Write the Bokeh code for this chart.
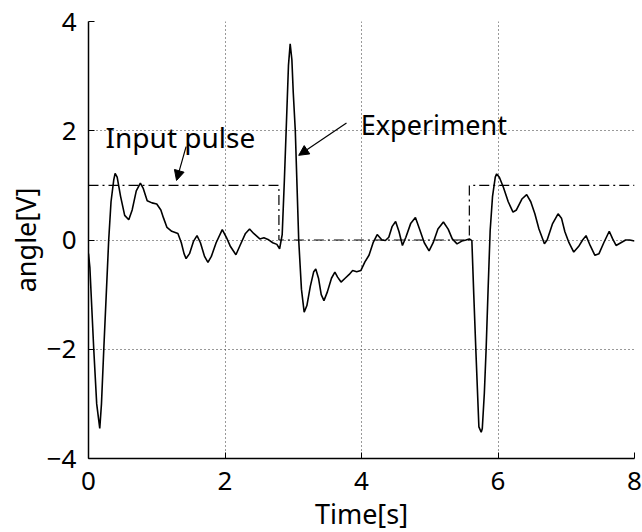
from bokeh.plotting import figure
from bokeh.models import Range1d, FixedTicker, Label, Arrow, NormalHead, Title
from bokeh.embed import file_html
from bokeh.resources import INLINE

# Experiment response (time [s], angle [V])
exp_t = [0.00, 0.02, 0.077, 0.12, 0.165, 0.19, 0.224, 0.26, 0.296, 0.33, 0.37, 0.39,
         0.42, 0.47, 0.53, 0.59, 0.64, 0.70, 0.76, 0.80, 0.86, 0.93, 1.00, 1.06,
         1.10, 1.15, 1.22, 1.31, 1.36, 1.40, 1.43, 1.48, 1.54, 1.59, 1.64, 1.70,
         1.75, 1.80, 1.87, 1.96, 2.02, 2.08, 2.16, 2.22, 2.30, 2.36, 2.42, 2.51,
         2.57, 2.63, 2.70, 2.76, 2.80, 2.838, 2.87, 2.896, 2.93, 2.955, 2.98, 3.00,
         3.03, 3.055, 3.08, 3.12, 3.16, 3.20, 3.25, 3.30, 3.33, 3.37, 3.41, 3.45,
         3.50, 3.56, 3.61, 3.65, 3.70, 3.76, 3.82, 3.87, 3.93, 3.99, 4.05, 4.11,
         4.17, 4.23, 4.30, 4.35, 4.40, 4.45, 4.50, 4.55, 4.60, 4.65, 4.72, 4.79,
         4.85, 4.92, 4.99, 5.05, 5.12, 5.20, 5.27, 5.33, 5.40, 5.47, 5.53, 5.58,
         5.617, 5.645, 5.675, 5.72, 5.754, 5.77, 5.80, 5.826, 5.855, 5.885, 5.92, 5.96,
         5.98, 6.02, 6.08, 6.15, 6.22, 6.27, 6.35, 6.42, 6.48, 6.54, 6.60, 6.68,
         6.72, 6.80, 6.88, 6.93, 6.98, 7.04, 7.11, 7.18, 7.24, 7.29, 7.35, 7.42,
         7.48, 7.55, 7.63, 7.68, 7.73, 7.80, 7.87, 7.93, 8.00]
exp_v = [-0.25, -0.5, -2.0, -3.0, -3.45, -3.0, -2.0, -1.0, 0.0, 0.7, 1.1, 1.22,
         1.15, 0.8, 0.45, 0.37, 0.55, 0.9, 1.04, 0.95, 0.72, 0.68, 0.66, 0.55,
         0.4, 0.23, 0.16, 0.12, -0.05, -0.25, -0.34, -0.25, -0.02, 0.08, -0.05, -0.3,
         -0.41, -0.3, -0.05, 0.19, 0.05, -0.12, -0.27, -0.1, 0.12, 0.20, 0.12, 0.02,
         0.04, 0.01, -0.05, -0.08, -0.16, 0.1, 1.1, 2.0, 3.2, 3.59, 3.3, 2.7,
         2.0, 1.0, 0.0, -0.9, -1.32, -1.2, -0.85, -0.58, -0.53, -0.7, -1.0, -1.11,
         -0.95, -0.7, -0.59, -0.68, -0.77, -0.70, -0.63, -0.56, -0.58, -0.56, -0.4, -0.28,
         -0.05, 0.10, 0.0, -0.01, 0.05, 0.25, 0.34, 0.15, -0.10, 0.05, 0.30, 0.41,
         0.2, -0.05, -0.20, -0.05, 0.2, 0.33, 0.2, 0.02, -0.07, -0.02, 0.0, 0.02,
         -0.01, -1.0, -2.0, -3.42, -3.52, -3.45, -2.8, -2.0, -0.9, 0.17, 0.8, 1.15,
         1.21, 1.15, 0.96, 0.7, 0.51, 0.55, 0.75, 0.83, 0.7, 0.48, 0.2, -0.07,
         0.0, 0.3, 0.48, 0.40, 0.15, -0.05, -0.22, -0.12, 0.0, 0.08, -0.1, -0.28,
         -0.25, -0.05, 0.16, 0.02, -0.10, -0.05, 0.0, 0.0, -0.02]

# Input pulse (step series)
pulse_t = [0.0, 2.79, 2.79, 5.58, 5.58, 8.0]
pulse_v = [1.0, 1.0, 0.0, 0.0, 1.0, 1.0]

x_ticks = [0, 2, 4, 6, 8]
x_tick_labels = ["0", "2", "4", "6", "8"]
y_ticks = [-4, -2, 0, 2, 4]
y_tick_labels = ["\u22124", "\u22122", "0", "2", "4"]

FONT = "Noto Sans"

p = figure(width=642, height=532, frame_width=546, frame_height=437,
           min_border_left=88, min_border_right=8, min_border_top=21, min_border_bottom=74,
           x_range=Range1d(0, 8), y_range=Range1d(-4, 4),
           output_backend="svg", toolbar_location=None, tools="")
p.outline_line_color = None
p.background_fill_color = "white"
p.border_fill_color = "white"

p.xaxis.ticker = FixedTicker(ticks=x_ticks)
p.yaxis.ticker = FixedTicker(ticks=y_ticks)
p.xaxis.major_label_overrides = dict(zip(x_ticks, x_tick_labels))
p.yaxis.major_label_overrides = dict(zip(y_ticks, y_tick_labels))

for ax in (p.xaxis[0], p.yaxis[0]):
    ax.axis_line_color = "black"
    ax.axis_line_width = 1.5
    ax.major_tick_in = 6
    ax.major_tick_out = 0
    ax.minor_tick_line_color = None
    ax.major_tick_line_color = "black"
    ax.major_label_text_font = FONT
    ax.major_label_text_font_size = "26px"
    ax.major_label_text_color = "black"
    ax.axis_label_text_font = FONT
    ax.axis_label_text_font_size = "27px"
    ax.axis_label_text_font_style = "normal"
    ax.axis_label_text_color = "black"

p.xaxis.major_label_standoff = 13
p.yaxis.major_label_standoff = 12
p.xaxis.axis_label = "Time[s]"
p.xaxis.axis_label_standoff = 2

p.add_layout(Title(text="angle[V]", align="center", offset=18,
                   text_font=FONT, text_font_size="27px", text_font_style="normal",
                   text_color="black", standoff=0), "left")

for g in (p.xgrid[0], p.ygrid[0]):
    g.grid_line_color = "#333333"
    g.grid_line_dash = "1 3"
    g.grid_line_width = 1

p.line(pulse_t, pulse_v, line_color="black", line_width=1.2, line_dash="10 4 2 4")
p.line(exp_t, exp_v, line_color="black", line_width=1.6)

p.add_layout(Label(x=0.25, y=1.89, text="Input pulse", text_align="left",
                   text_baseline="alphabetic", text_font=FONT, text_font_size="28px",
                   text_color="black"))
p.add_layout(Label(x=3.99, y=2.12, text="Experiment", text_align="left",
                   text_baseline="alphabetic", text_font=FONT, text_font_size="27px",
                   text_color="black"))

p.add_layout(Arrow(x_start=1.43, y_start=1.71, x_end=1.29, y_end=1.09,
                   line_color="black", line_width=1.2,
                   end=NormalHead(size=10, fill_color="black", line_color="black")))
p.add_layout(Arrow(x_start=3.78, y_start=2.14, x_end=3.08, y_end=1.55,
                   line_color="black", line_width=1.2,
                   end=NormalHead(size=10, fill_color="black", line_color="black")))

open("out.html", "w").write(file_html(p, INLINE))
